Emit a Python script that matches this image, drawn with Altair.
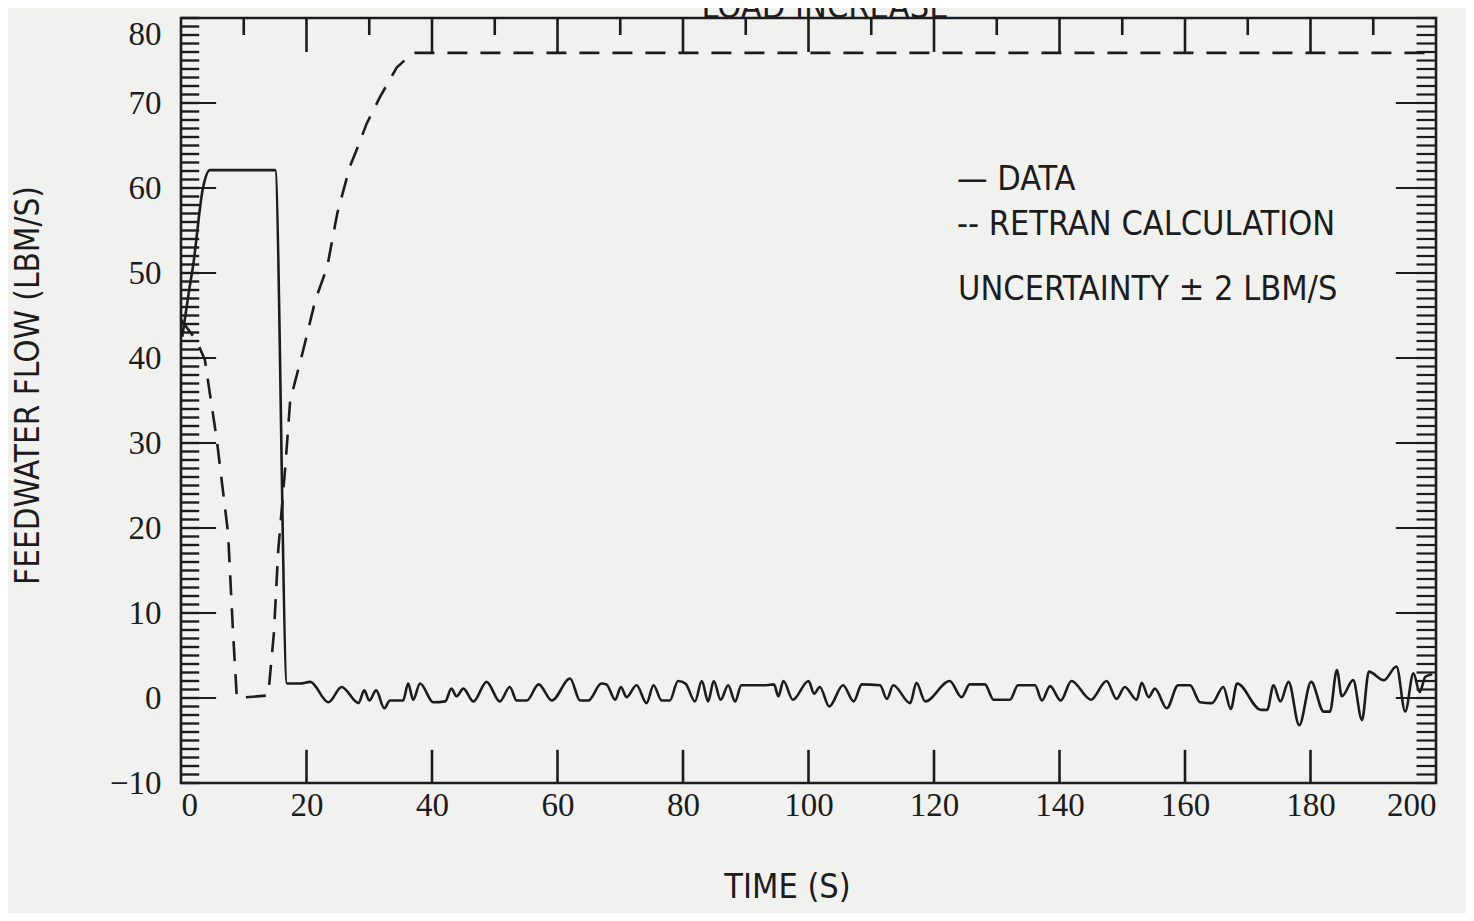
import altair as alt
import pandas as pd

# ---- data ----
data_t = [0.2, 0.8, 1.3, 1.9, 3.5, 4.6, 15.0, 16.9, 19.0, 20.6, 23.5, 25.6, 28.3, 29.2, 30.0, 31.1,
          32.4, 33.3, 35.4, 36.2, 37.0, 38.1, 40.2, 42.1, 43.1, 43.9, 45.0, 46.6, 48.7, 50.8, 52.4,
          53.5, 55.1, 57.0, 59.1, 62.0, 63.6, 64.9, 67.0, 67.8, 69.2, 70.1, 71.0, 72.6, 74.2, 75.3,
          76.6, 77.9, 79.2, 80.4, 81.9, 83.0, 84.0, 84.9, 86.0, 87.2, 88.3, 89.3, 93.3, 94.5, 95.2,
          96.0, 97.5, 100.0, 100.9, 101.8, 103.3, 105.5, 107.2, 108.5, 111.4, 112.5, 113.5, 116.2,
          117.2, 118.6, 122.5, 124.4, 125.7, 128.1, 129.5, 132.1, 133.4, 136.1, 137.2, 138.5, 140.2,
          141.9, 145.0, 147.5, 149.1, 150.4, 152.3, 153.1, 154.2, 155.2, 157.1, 158.9, 160.8, 162.4,
          164.3, 166.1, 167.3, 168.3, 172.1, 173.1, 174.1, 175.2, 176.5, 178.2, 180.1, 182.1, 183.1,
          184.2, 185.0, 186.8, 188.2, 189.3, 191.7, 193.7, 195.1, 196.4, 197.4, 198.3, 199.4]
data_v = [42.5, 45.5, 48.0, 50.7, 60.0, 62.1, 62.1, 1.7, 1.7, 1.9, -0.5, 1.3, -0.6, 0.9, -0.3, 0.9,
          -1.2, -0.3, -0.3, 1.7, -0.2, 1.7, -0.5, -0.4, 1.1, 0.2, 1.1, -0.4, 1.9, -0.4, 1.3,
          -0.3, -0.3, 1.6, -0.3, 2.3, -0.3, -0.3, 1.7, 1.6, -0.2, 1.3, 0.1, 1.5, -0.6, 1.5,
          -0.3, -0.3, 2.0, 1.7, -0.4, 2.0, -0.4, 2.0, -0.2, 1.5, -0.4, 1.5, 1.5, 1.6, 0.2,
          2.0, -0.2, 2.0, 0.5, 1.3, -1.0, 1.5, -0.4, 1.6, 1.5, -0.1, 1.5, -0.6,
          1.8, -0.4, 2.0, 0.1, 1.6, 1.6, -0.2, -0.2, 1.5, 1.5, -0.3, 1.4, -0.3,
          2.0, -0.2, 2.0, -0.1, 1.3, -0.2, 1.8, 0.1, 1.1, -1.2, 1.5, 1.5, -0.5,
          -0.6, 1.3, -1.3, 1.7, -1.4, -1.4, 1.5, -0.4, 1.9, -3.2, 1.9, -1.6, -1.6,
          3.3, 0.2, 2.1, -2.6, 3.1, 2.1, 3.7, -1.6, 2.9, 0.7, 2.5, 2.8]

retran_t = [0.0, 2.5, 3.8, 5.7, 7.5, 8.3, 8.9, 13.9, 14.8, 15.5, 16.6, 17.4, 19.5, 21.4, 23.3,
            24.9, 26.9, 28.0, 29.6, 31.7, 34.4, 37.0, 200.0]
retran_v = [44.5, 42.0, 39.8, 30.4, 19.4, 7.6, 0.0, 0.3, 7.6, 17.4, 27.0, 35.0, 41.0, 46.8, 50.7,
            57.0, 62.5, 64.5, 67.6, 70.7, 74.2, 75.9, 75.9]

x_tick_labels = list(range(0, 201, 20))
y_tick_labels = list(range(-10, 81, 10))
minor_y = list(range(-10, 81))
major_y = list(range(-10, 81, 10))
top_long = list(range(20, 181, 20))
top_short = list(range(10, 191, 20))
bottom_ticks = list(range(20, 181, 20))

FONT = "DejaVu Sans Condensed, Liberation Sans Narrow, Roboto Condensed, Noto Sans"
NUMFONT = "Liberation Serif"
INK = "#1c1c1c"

xs = alt.Scale(domain=[0, 200], nice=False, zero=False)
ys = alt.Scale(domain=[-10, 80], nice=False, zero=False)

df_data = pd.DataFrame({"t": data_t, "v": data_v})
df_ret = pd.DataFrame({"t": retran_t, "v": retran_v})

xaxis = alt.Axis(values=x_tick_labels, ticks=False, domain=False, grid=False, labelFont=NUMFONT,
                 labelFontSize=33, labelColor=INK, labelPadding=6, title="TIME  (S)",
                 titleFont=FONT, titleFontSize=34, titleFontWeight="normal", titleColor=INK,
                 titleX=606, titleY=121, titleBaseline="bottom")
yaxis = alt.Axis(values=y_tick_labels, ticks=False, domain=False, grid=False, labelFont=NUMFONT,
                 labelFontSize=33, labelColor=INK, labelPadding=20,
                 labelBaseline=alt.condition("datum.value == 80", alt.value("top"), alt.value("middle")),
                 title="FEEDWATER  FLOW  (LBM/S)", titleFont=FONT, titleFontSize=33,
                 titleFontWeight="normal", titleColor=INK, titleX=-136, titleY=367,
                 titleAngle=270, titleAlign="center", titleBaseline="bottom")

base_data = alt.Chart(df_data).mark_line(color=INK, strokeWidth=2.6, interpolate="monotone").encode(
    x=alt.X("t:Q", scale=xs, axis=xaxis),
    y=alt.Y("v:Q", scale=ys, axis=yaxis),
)
ret_line = alt.Chart(df_ret).mark_line(color=INK, strokeWidth=2.6, strokeDash=[20, 13]).encode(
    x=alt.X("t:Q", scale=xs), y=alt.Y("v:Q", scale=ys)
)

def hticks(values, x0, x1, w):
    return alt.Chart(pd.DataFrame({"y": values})).mark_rule(color=INK, strokeWidth=w).encode(
        y=alt.Y("y:Q", scale=ys), x=alt.datum(x0), x2=alt.datum(x1))

def vticks(values, y0, y1, w):
    return alt.Chart(pd.DataFrame({"x": values})).mark_rule(color=INK, strokeWidth=w).encode(
        x=alt.X("x:Q", scale=xs), y=alt.datum(y0), y2=alt.datum(y1))

left_minor = hticks(minor_y, 0, 2.9, 2.4)
left_major = hticks(major_y, 0, 5.6, 2.2)
right_minor = hticks(minor_y, 200, 196.9, 2.2)
right_major = hticks(major_y, 200, 193.6, 2.0)
top_l = vticks(top_long, 80, 76.0, 2.6)
top_s = vticks(top_short, 80, 78.0, 2.6)
bot = vticks(bottom_ticks, -10, -6.1, 2.6)

def label(txt, px, py, size=34, align="left"):
    return alt.Chart(pd.DataFrame({"s": [txt]})).mark_text(
        font=FONT, fontSize=size, color=INK, align=align, baseline="alphabetic"
    ).encode(text="s:N", x=alt.value(px), y=alt.value(py))

leg1 = label("— DATA", 776, 172)
leg2 = label("-- RETRAN CALCULATION", 776, 217)
leg3 = label("UNCERTAINTY ± 2 LBM/S", 777, 282)
title = label("LOAD INCREASE", 644, 0, size=34, align="center")

chart = alt.layer(
    left_minor, left_major, right_minor, right_major, top_l, top_s, bot,
    ret_line, base_data, leg1, leg2, leg3, title
).properties(
    width=1255, height=765,
    autosize=alt.AutoSizeParams(type="none"),
    padding={"left": 173, "top": 10, "right": 30, "bottom": 130},
    background="#f1f1f0",
).configure_view(stroke=INK, strokeWidth=2.6)

chart.save("out.html", embed_options={"renderer": "svg", "actions": False})
